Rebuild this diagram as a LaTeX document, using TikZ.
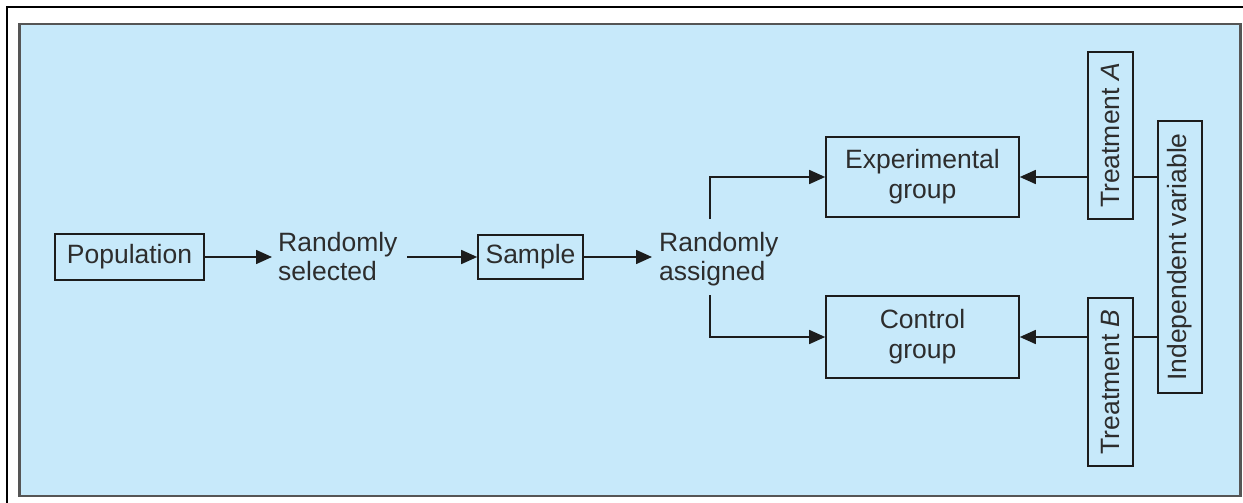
\documentclass[tikz,border=0pt]{standalone}
\usepackage{fontspec}
\setmainfont{Liberation Sans}
\usetikzlibrary{arrows.meta}
\definecolor{panelblue}{RGB}{199,233,250}
\definecolor{panelrim}{RGB}{85,85,85}
\definecolor{inkline}{RGB}{28,28,28}
\definecolor{inktext}{RGB}{45,45,45}
\tikzset{
  box/.style={draw=inkline, line width=1.6pt, inner sep=0pt, align=center,
              text=inktext, font=\fontsize{26.5}{30}\selectfont},
  label/.style={inner sep=0pt, align=left, text=inktext,
                font=\fontsize{26.5}{29}\selectfont},
  link/.style={draw=inkline, line width=1.6pt},
  arr/.style={link, -{Triangle[length=16pt,width=14pt]}}
}
\begin{document}
\begin{tikzpicture}[x=1pt,y=-1pt]
\useasboundingbox (0,0) rectangle (1243,503);
% outer frame and panel
\fill[white] (0,0) rectangle (1243,503);
\draw[black, line width=2pt] (6.5,503) -- (6.5,7) -- (1243,7);
\draw[panelrim, line width=2.2pt, fill=panelblue] (19.5,24) rectangle (1240.5,496);

% flow from population to sample
\node[box, minimum width=149pt, minimum height=46pt] (pop) at (129.5,257) {Population};
\node[label, anchor=north west] (sel) at (278,232) {Randomly\\selected};
\node[box, minimum width=105pt, minimum height=44pt] (smp) at (530.5,257) {Sample};
\node[label, anchor=north west] (asg) at (659,232) {Randomly\\assigned};

% groups
\node[box, minimum width=193pt, minimum height=80pt] (exp) at (922.5,177) {Experimental\\group};
\node[box, minimum width=193pt, minimum height=82pt] (ctl) at (922.5,337) {Control\\group};

% treatments and independent variable (rotated)
\node[box, rotate=90, minimum width=167pt, minimum height=45pt] (ta) at (1110.5,135.5) {Treatment \textit{A}};
\node[box, rotate=90, minimum width=168pt, minimum height=45pt] (tb) at (1110.5,382) {Treatment \textit{B}};
\node[box, rotate=90, minimum width=272pt, minimum height=44pt] (iv) at (1180,257) {Independent variable};

% connectors
\coordinate (selin) at ([xshift=-6pt]sel.west |- pop.east);
\coordinate (selout) at (407,257);
\coordinate (asgin) at ([xshift=-7pt]asg.west |- smp.east);
\draw[arr] (pop.east) -- (selin);
\draw[arr] (selout) -- (smp.west);
\draw[arr] (smp.east) -- (asgin);

\coordinate (up) at (710,219);
\coordinate (down) at (710,295);
\draw[arr] (up) |- (exp.west);
\draw[arr] (down) |- (ctl.west);

\draw[arr] (exp.east -| ta.north) -- (exp.east);
\draw[arr] (ctl.east -| tb.north) -- (ctl.east);
\draw[link] (exp.east -| ta.south) -- (exp.east -| iv.north);
\draw[link] (ctl.east -| tb.south) -- (ctl.east -| iv.north);
\end{tikzpicture}
\end{document}
